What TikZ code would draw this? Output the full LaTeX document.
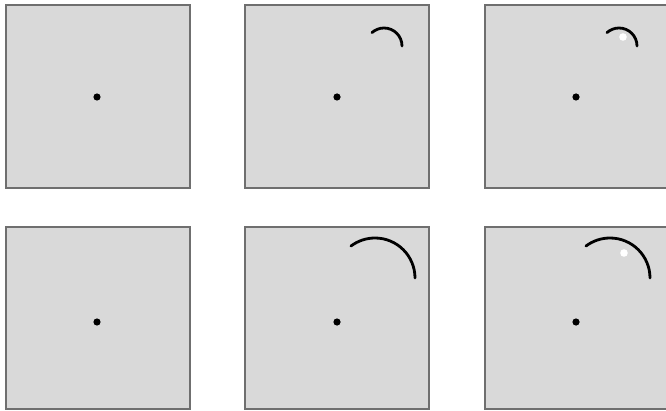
\documentclass[tikz,border=0pt]{standalone}
\definecolor{panelgray}{HTML}{D9D9D9}
\definecolor{bordergray}{HTML}{6F6F6F}
\tikzset{
  panel/.style={fill=panelgray, draw=bordergray, line width=1.6pt},
  centerdot/.style={fill=black},
  arcline/.style={draw=black, line width=2.8pt, line cap=round},
  spot/.style={fill=white}
}
\begin{document}
\begin{tikzpicture}[x=1pt,y=1pt]
\useasboundingbox (0,0) rectangle (666,410);
% top row
\draw[panel] (6,222) rectangle (190,405);
\draw[panel] (245,222) rectangle (429,405);
\draw[panel] (485,222) rectangle (669,405);
% bottom row
\draw[panel] (6,1) rectangle (190,183);
\draw[panel] (245,1) rectangle (429,183);
\draw[panel] (485,1) rectangle (669,183);
% dots
\foreach \x in {97,337,576} {
  \fill[centerdot] (\x,313) circle[radius=3.6];
  \fill[centerdot] (\x,88) circle[radius=3.6];
}
% small arcs (top row)
\draw[arcline] (402,364) arc[start angle=0, end angle=132, radius=18];
\draw[arcline] (637,364) arc[start angle=0, end angle=132, radius=18];
% large arcs (bottom row)
\draw[arcline] (415,132) arc[start angle=0, end angle=127, radius=40];
\draw[arcline] (650,132) arc[start angle=0, end angle=127, radius=40];
% white spots
\fill[spot] (623,373) circle[radius=3.8];
\fill[spot] (624,157) circle[radius=3.8];
\end{tikzpicture}
\end{document}
